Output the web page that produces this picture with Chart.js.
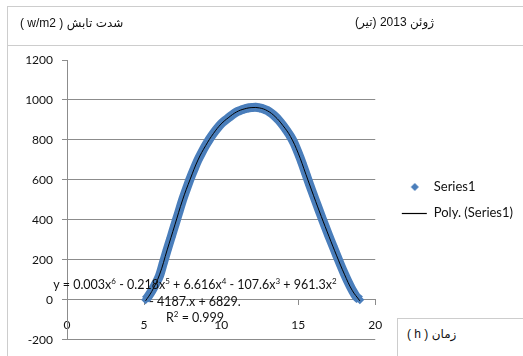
<!DOCTYPE html>
<html>
<head>
<meta charset="utf-8">
<script src="https://cdn.jsdelivr.net/npm/chart.js@4.4.0/dist/chart.umd.min.js"></script>
<style>
  html, body { margin: 0; padding: 0; background: #fff; }
  #wrap { position: relative; width: 523px; height: 356px; overflow: hidden; }
  #chart { position: absolute; left: 0; top: 0; }
  .frame-top { position: absolute; left: 7px; top: 6px; right: -2px; height: 38px; border-top: 1px solid #cdcdcd; border-bottom: 1px solid #cdcdcd; }
  .frame-left { position: absolute; left: 7px; top: 6px; bottom: -2px; border-left: 1px solid #cdcdcd; }
  .label { position: absolute; font-family: "Liberation Sans", "DejaVu Sans", sans-serif; font-size: 12px; color: #111; white-space: nowrap; direction: ltr; }
  #unit { left: 20px; top: 16px; }
  #title { left: 355px; top: 15px; }
  #xbox { position: absolute; left: 397px; top: 318px; right: -2px; bottom: -2px; border-top: 1px solid #cdcdcd; border-left: 1px solid #cdcdcd; background: #fff; }
  #xname { left: 407px; top: 327px; }
  #eq { position: absolute; left: 45px; width: 300px; top: 277px; text-align: center; font-family: Lato, sans-serif; font-size: 12.5px; line-height: 16.5px; color: #111; }
  #eq sup { font-size: 8px; line-height: 0; vertical-align: 5px; }
</style>
</head>
<body>
<div id="wrap">
  <canvas id="chart" width="523" height="356"></canvas>
  <div class="frame-top"></div>
  <div class="frame-left"></div>
  <div class="label" id="unit"><bdi>( w/m2 )</bdi> <bdi>شدت تابش</bdi></div>
  <div class="label" id="title" style="direction: rtl">ژوئن 2013 (تیر)</div>
  <div id="xbox"></div>
  <div class="label" id="xname"><bdi>( h )</bdi> <bdi>زمان</bdi></div>
  <div id="eq">y = 0.003x<sup>6</sup> - 0.218x<sup>5</sup> + 6.616x<sup>4</sup> - 107.6x<sup>3</sup> + 961.3x<sup>2</sup><br>- 4187.x + 6829.<br>R<sup>2</sup> = 0.999</div>
</div>
<script>
// measured points (hour of day, W/m2)
const hours = [5.1, 5.25, 5.5, 5.75, 6.0, 6.25, 6.5, 6.75, 7.0, 7.25, 7.5, 7.75, 8.0, 8.25, 8.5, 8.75,
  9.0, 9.25, 9.5, 9.75, 10.0, 10.25, 10.5, 10.75, 11.0, 11.25, 11.5, 11.75, 12.0, 12.25, 12.5, 12.75,
  13.0, 13.25, 13.5, 13.75, 14.0, 14.25, 14.5, 14.75, 15.0, 15.25, 15.5, 15.75, 16.0, 16.25, 16.5, 16.75,
  17.0, 17.25, 17.5, 17.75, 18.0, 18.25, 18.5, 18.75, 19.0];
const irradiance = [0, 15, 45, 80, 120, 185, 250, 312, 375, 437, 500, 555, 608, 655, 700, 738,
  773, 805, 833, 858, 880, 897, 912, 927, 940, 948, 955, 960, 962, 963, 960, 955,
  947, 934, 918, 898, 874, 847, 818, 782, 735, 685, 630, 575, 522, 470, 418, 368,
  318, 270, 222, 175, 130, 88, 50, 18, 0];

// polynomial trendline
const trendHours = [5.1, 5.5, 6.0, 6.5, 7.0, 7.5, 8.0, 8.5, 9.0, 9.5, 10.0, 10.5, 11.0, 11.5, 12.0,
  12.5, 13.0, 13.5, 14.0, 14.5, 15.0, 15.5, 16.0, 16.5, 17.0, 17.5, 18.0, 18.5, 19.0];
const trendValues = [-5, 42, 125, 250, 375, 500, 605, 700, 772, 832, 880, 913, 940, 955, 962,
  960, 946, 917, 873, 817, 734, 628, 521, 417, 317, 220, 128, 48, -5];

const xTicks = [0, 5, 10, 15, 20];
const yTicks = [-200, 0, 200, 400, 600, 800, 1000, 1200];

const seriesColor = "#4a7ebb";
const gridColor = "#8c8c8c";

function legendIcon(kind) {
  const c = document.createElement("canvas");
  c.width = 40;
  c.height = 12;
  const g = c.getContext("2d");
  if (kind === "diamond") {
    g.fillStyle = seriesColor;
    g.beginPath();
    g.moveTo(27, 2);
    g.lineTo(31, 6);
    g.lineTo(27, 10);
    g.lineTo(23, 6);
    g.closePath();
    g.fill();
  } else {
    g.strokeStyle = "#000";
    g.lineWidth = 1.2;
    g.beginPath();
    g.moveTo(14, 6.5);
    g.lineTo(39, 6.5);
    g.stroke();
  }
  return c;
}
const icons = [legendIcon("diamond"), legendIcon("line")];

new Chart(document.getElementById("chart"), {
  type: "scatter",
  data: {
    datasets: [
      {
        label: "Series1",
        data: hours.map((h, i) => ({ x: h, y: irradiance[i] })),
        showLine: true,
        borderColor: seriesColor,
        backgroundColor: seriesColor,
        borderWidth: 9,
        pointStyle: "rectRot",
        pointRadius: 4.5,
        pointBorderWidth: 0,
        tension: 0.3,
        order: 2,
      },
      {
        label: "Poly. (Series1)",
        data: trendHours.map((h, i) => ({ x: h, y: trendValues[i] })),
        showLine: true,
        borderColor: "#000",
        backgroundColor: "#000",
        borderWidth: 1,
        pointRadius: 0,
        tension: 0.4,
        order: 1,
      },
    ],
  },
  options: {
    responsive: false,
    animation: false,
    layout: { padding: { top: 60, bottom: 16, left: 0, right: 0 } },
    plugins: {
      tooltip: { enabled: false },
      legend: {
        position: "right",
        align: "center",
        maxWidth: 151,
        labels: {
          usePointStyle: true,
          pointStyleWidth: 39,
          padding: 13,
          color: "#111",
          font: { family: "Lato", size: 13 },
          sort: (a, b) => a.datasetIndex - b.datasetIndex,
          generateLabels: (chart) =>
            Chart.defaults.plugins.legend.labels
              .generateLabels(chart)
              .map((item) => ({ ...item, pointStyle: icons[item.datasetIndex] })),
        },
      },
    },
    scales: {
      x: {
        type: "linear",
        position: { y: 0 },
        min: xTicks[0],
        max: xTicks[xTicks.length - 1],
        ticks: {
          stepSize: xTicks[1] - xTicks[0],
          padding: 13,
          color: "#111",
          font: { family: "Lato", size: 12 },
          maxRotation: 0,
        },
        grid: { drawOnChartArea: false, tickLength: 5, color: gridColor },
        border: { color: gridColor },
      },
      y: {
        min: yTicks[0],
        max: yTicks[yTicks.length - 1],
        ticks: {
          stepSize: yTicks[1] - yTicks[0],
          padding: 9,
          color: "#111",
          font: { family: "Lato", size: 12 },
          callback: (v) => String(v),
        },
        grid: {
          color: (ctx) => (ctx.tick && ctx.tick.value === yTicks[yTicks.length - 1] ? "rgba(0,0,0,0)" : gridColor),
          tickColor: gridColor,
          tickLength: 5,
        },
        border: { color: gridColor },
        afterFit: (scale) => {
          scale.width = 67;
        },
      },
    },
  },
});
</script>
</body>
</html>
